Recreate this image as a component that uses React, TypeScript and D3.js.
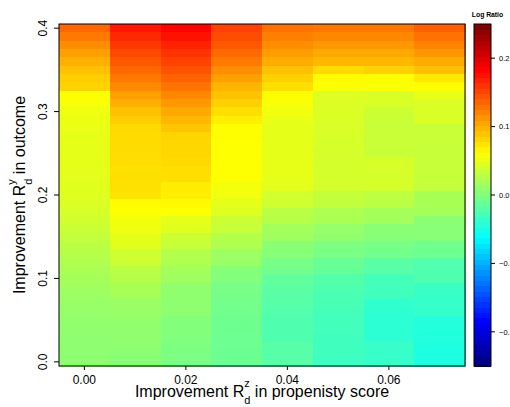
import React from "react";
import * as d3 from "d3";

// x categories (propensity score improvement) and y categories (outcome improvement, top to bottom)
const xValues = [0.0, 0.01, 0.02, 0.03, 0.04, 0.05, 0.06, 0.07];
const yValues = [
  0.4, 0.39, 0.38, 0.37, 0.36, 0.35, 0.34, 0.33, 0.32, 0.31,
  0.3, 0.29, 0.28, 0.27, 0.26, 0.25, 0.24, 0.23, 0.22, 0.21,
  0.2, 0.19, 0.18, 0.17, 0.16, 0.15, 0.14, 0.13, 0.12, 0.11,
  0.1, 0.09, 0.08, 0.07, 0.06, 0.05, 0.04, 0.03, 0.02, 0.01, 0.0,
];

// Log ratio per column, listed from y = 0.40 down to y = 0.00
const col000 = [
  0.137, 0.128, 0.118, 0.109, 0.101, 0.093, 0.087, 0.084, 0.062, 0.059,
  0.055, 0.053, 0.052, 0.051, 0.051, 0.05, 0.05, 0.05, 0.049, 0.048,
  0.047, 0.045, 0.043, 0.04, 0.037, 0.033, 0.03, 0.027, 0.024, 0.021,
  0.019, 0.016, 0.014, 0.012, 0.011, 0.01, 0.009, 0.008, 0.008, 0.007, 0.007,
];
const col001 = [
  0.176, 0.168, 0.16, 0.152, 0.144, 0.136, 0.128, 0.12, 0.109, 0.101,
  0.093, 0.087, 0.081, 0.08, 0.08, 0.079, 0.079, 0.077, 0.078, 0.077,
  0.076, 0.064, 0.062, 0.057, 0.055, 0.05, 0.048, 0.039, 0.037, 0.029,
  0.027, 0.021, 0.019, 0.013, 0.012, 0.01, 0.009, 0.009, 0.008, 0.006, 0.004,
];
const col002 = [
  0.187, 0.179, 0.171, 0.163, 0.155, 0.147, 0.139, 0.131, 0.121, 0.113,
  0.105, 0.097, 0.091, 0.083, 0.082, 0.082, 0.081, 0.078, 0.078, 0.072,
  0.071, 0.065, 0.062, 0.05, 0.048, 0.037, 0.035, 0.025, 0.023, 0.018,
  0.016, 0.009, 0.008, 0.008, 0.007, 0.002, 0.002, 0.001, -0.001, -0.001, -0.002,
];
const col003 = [
  0.155, 0.15, 0.144, 0.136, 0.128, 0.118, 0.109, 0.099, 0.093, 0.085,
  0.078, 0.07, 0.063, 0.063, 0.062, 0.062, 0.062, 0.062, 0.062, 0.057,
  0.056, 0.049, 0.047, 0.037, 0.035, 0.026, 0.024, 0.014, 0.012, 0.003,
  0.001, -0.004, -0.005, -0.006, -0.007, -0.008, -0.008, -0.009, -0.009, -0.01, -0.01,
];
const col004 = [
  0.132, 0.125, 0.118, 0.111, 0.103, 0.093, 0.085, 0.078, 0.063, 0.059,
  0.056, 0.052, 0.05, 0.05, 0.05, 0.05, 0.051, 0.051, 0.05, 0.049,
  0.041, 0.039, 0.029, 0.027, 0.018, 0.016, 0.006, 0.004, -0.004, -0.006,
  -0.014, -0.016, -0.019, -0.02, -0.022, -0.023, -0.023, -0.024, -0.02, -0.02, -0.019,
];
const col005 = [
  0.128, 0.121, 0.113, 0.105, 0.097, 0.08, 0.064, 0.062, 0.046, 0.045,
  0.045, 0.044, 0.044, 0.043, 0.043, 0.042, 0.042, 0.042, 0.042, 0.041,
  0.034, 0.032, 0.023, 0.021, 0.011, 0.009, -0.001, -0.003, -0.011, -0.013,
  -0.021, -0.023, -0.026, -0.027, -0.029, -0.03, -0.03, -0.031, -0.031, -0.031, -0.032,
];
const col006 = [
  0.128, 0.121, 0.113, 0.105, 0.097, 0.085, 0.063, 0.062, 0.044, 0.044,
  0.037, 0.036, 0.036, 0.036, 0.036, 0.035, 0.043, 0.043, 0.042, 0.042,
  0.031, 0.029, 0.019, 0.017, 0.006, 0.004, -0.004, -0.006, -0.018, -0.02,
  -0.029, -0.03, -0.031, -0.039, -0.04, -0.041, -0.041, -0.042, -0.035, -0.036, -0.036,
];
const col007 = [
  0.14, 0.132, 0.123, 0.113, 0.103, 0.093, 0.073, 0.063, 0.052, 0.045,
  0.044, 0.044, 0.036, 0.036, 0.035, 0.035, 0.035, 0.035, 0.034, 0.033,
  0.021, 0.02, 0.019, 0.006, 0.005, 0.004, -0.007, -0.009, -0.022, -0.023,
  -0.024, -0.034, -0.035, -0.036, -0.037, -0.045, -0.046, -0.046, -0.047, -0.048, -0.049,
];
const columns = [col000, col001, col002, col003, col004, col005, col006, col007];

const xTicks = [0.0, 0.02, 0.04, 0.06];
const xTickLabels = ["0.00", "0.02", "0.04", "0.06"];
const yTicks = [0.0, 0.1, 0.2, 0.3, 0.4];
const yTickLabels = ["0.0", "0.1", "0.2", "0.3", "0.4"];
const legendTicks = [0.2, 0.1, 0.0, -0.1, -0.2];
const legendTickLabels = ["0.2", "0.1", "0.0", "\u22120.1", "\u22120.2"];
const zLimits = [-0.25, 0.25];
const paletteStops = [
  "#00007F", "#0000FF", "#007FFF", "#00FFFF", "#7FFF7F",
  "#FFFF00", "#FF7F00", "#FF0000", "#7F0000",
];

const W = 510;
const H = 407;
const plot = { left: 59, right: 465, top: 24, bottom: 366 };
const legend = { left: 474, right: 491 };
const FONT = "'Liberation Sans', Arial, Helvetica, sans-serif";

export default function App() {
  const x = d3.scaleLinear().domain([-0.005, 0.075]).range([plot.left, plot.right]);
  const y = d3.scaleLinear().domain([-0.005, 0.405]).range([plot.bottom, plot.top]);
  const ramp = d3
    .scaleLinear<string>()
    .domain(paletteStops.map((_, i) => i / (paletteStops.length - 1)))
    .range(paletteStops)
    .interpolate(d3.interpolateRgb);
  const toUnit = d3.scaleLinear().domain(zLimits).range([0, 1]).clamp(true);
  const color = (v: number) => ramp(toUnit(v));
  const nColors = 64;
  const palette = d3.range(nColors).map((i) => ramp(i / (nColors - 1)));
  const ly = d3.scaleLinear().domain(zLimits).range([plot.bottom, plot.top]);
  const step = (zLimits[1] - zLimits[0]) / nColors;

  const cells: JSX.Element[] = [];
  columns.forEach((col, ci) => {
    col.forEach((v, ri) => {
      const xv = xValues[ci];
      const yv = yValues[ri];
      const x0 = x(xv - 0.005);
      const x1 = x(xv + 0.005);
      const y0 = y(yv + 0.005);
      const y1 = y(yv - 0.005);
      cells.push(
        <rect
          key={`${ci}-${ri}`}
          x={x0}
          y={y0}
          width={x1 - x0 + 0.5}
          height={y1 - y0 + 0.5}
          fill={color(v)}
        />
      );
    });
  });

  const tickText = { fontFamily: FONT, fontSize: 12, fill: "#000" } as const;

  return (
    <svg
      width={W}
      height={H}
      style={{ position: "absolute", left: 0, top: 0, background: "#fff" }}
    >
      <rect width={W} height={H} fill="#fff" />
      <g shapeRendering="crispEdges">{cells}</g>
      <rect
        x={plot.left}
        y={plot.top}
        width={plot.right - plot.left}
        height={plot.bottom - plot.top}
        fill="none"
        stroke="#000"
        strokeWidth={1}
      />
      {/* y axis */}
      {yTicks.map((t, i) => (
        <g key={`yt${i}`}>
          <line x1={plot.left - 5} x2={plot.left} y1={y(t)} y2={y(t)} stroke="#000" />
          <text
            {...tickText}
            textAnchor="middle"
            transform={`translate(47,${y(t)}) rotate(-90)`}
          >
            {yTickLabels[i]}
          </text>
        </g>
      ))}
      {/* x axis */}
      {xTicks.map((t, i) => (
        <g key={`xt${i}`}>
          <line x1={x(t)} x2={x(t)} y1={plot.bottom} y2={plot.bottom + 4} stroke="#000" />
          <text {...tickText} textAnchor="middle" x={x(t)} y={384}>
            {xTickLabels[i]}
          </text>
        </g>
      ))}
      {/* x title */}
      <text
        fontFamily={FONT}
        fontSize={16}
        textAnchor="middle"
        x={(plot.left + plot.right) / 2}
        y={397}
      >
        Improvement R
        <tspan fontSize={11} dy={-10.5}>z</tspan>
        <tspan fontSize={11} dx={-5.5} dy={17.5}>d</tspan>
        <tspan dy={-7}> in propenisty score</tspan>
      </text>
      {/* y title */}
      <text
        fontFamily={FONT}
        fontSize={16}
        textAnchor="middle"
        transform={`translate(25,${(plot.top + plot.bottom) / 2}) rotate(-90)`}
      >
        Improvement R
        <tspan fontSize={11} dy={-10.5}>y</tspan>
        <tspan fontSize={11} dx={-5.5} dy={17.5}>d</tspan>
        <tspan dy={-7}> in outcome</tspan>
      </text>
      {/* legend */}
      <g shapeRendering="crispEdges">
        {palette.map((c, i) => {
          const v0 = zLimits[0] + i * step;
          const v1 = v0 + step;
          return (
            <rect
              key={`lg${i}`}
              x={legend.left}
              width={legend.right - legend.left}
              y={ly(v1)}
              height={ly(v0) - ly(v1) + 0.5}
              fill={c}
            />
          );
        })}
      </g>
      <rect
        x={legend.left}
        y={plot.top}
        width={legend.right - legend.left}
        height={plot.bottom - plot.top}
        fill="none"
        stroke="#000"
      />
      {legendTicks.map((t, i) => (
        <g key={`lt${i}`}>
          <line x1={legend.right} x2={legend.right + 4} y1={ly(t)} y2={ly(t)} stroke="#000" />
          <text
            fontFamily={FONT}
            fontSize={7.5}
            textAnchor="start"
            x={499}
            y={ly(t) + 2.7}
          >
            {legendTickLabels[i]}
          </text>
        </g>
      ))}
      <text
        fontFamily={FONT}
        fontSize={6.8}
        fontWeight="bold"
        textAnchor="middle"
        x={487.5}
        y={16.5}
      >
        Log Ratio
      </text>
    </svg>
  );
}
